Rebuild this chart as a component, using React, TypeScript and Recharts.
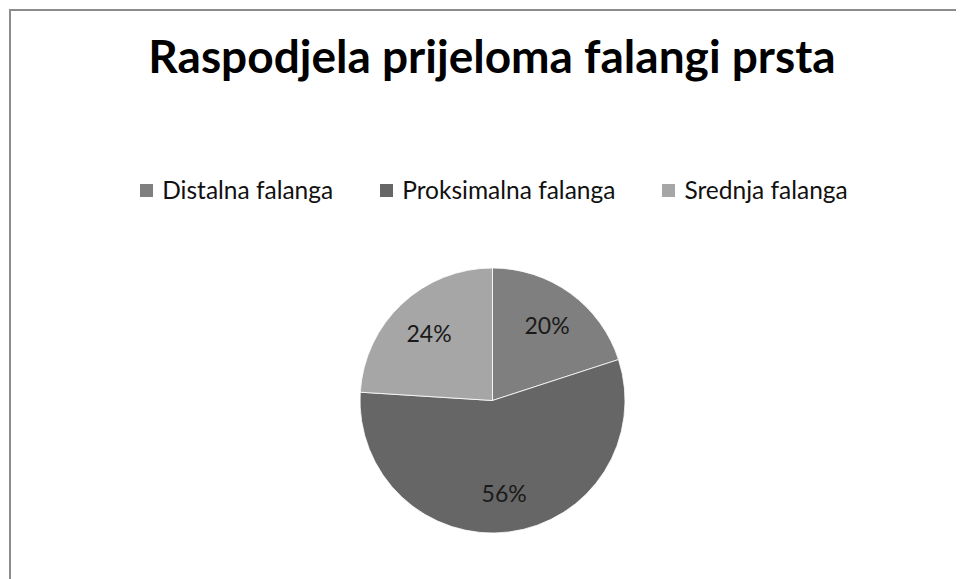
import React from 'react';
import { PieChart, Pie, Cell, Legend } from 'recharts';

const categories = ['Distalna falanga', 'Proksimalna falanga', 'Srednja falanga'];
const values = [20, 56, 24];
const colors = ['#7f7f7f', '#666666', '#a6a6a6'];
const title = 'Raspodjela prijeloma falangi prsta';

const data = categories.map((name, i) => ({ name, value: values[i] }));
const total = values.reduce((a, b) => a + b, 0);

const FONT = 'Lato, "Open Sans", sans-serif';
const RADIAN = Math.PI / 180;
const LEGEND_H = 24;

function renderLabel(props: any) {
  const { cx, cy, midAngle, outerRadius, value } = props;
  const r = outerRadius * 0.7;
  const x = cx + r * Math.cos(-midAngle * RADIAN);
  const y = cy + r * Math.sin(-midAngle * RADIAN);
  return (
    <text x={x} y={y} textAnchor="middle" dominantBaseline="central" fill="#1a1a1a" fontSize={23} fontFamily={FONT}>
      {Math.round((value / total) * 100)}%
    </text>
  );
}

function renderLegend(props: any) {
  const payload = props.payload || [];
  return (
    <div style={{ display: 'flex', justifyContent: 'center', fontFamily: FONT, fontSize: 24.5, color: '#111', lineHeight: `${LEGEND_H}px`, height: LEGEND_H }}>
      {payload.map((entry: any, i: number) => {
        const idx = categories.indexOf(entry.value);
        return (
          <div key={i} style={{ display: 'flex', alignItems: 'center', marginRight: i < payload.length - 1 ? 47 : 0 }}>
            <span style={{ display: 'inline-block', width: 13, height: 13, background: colors[idx >= 0 ? idx : i], marginRight: 9 }} />
            <span>{entry.value}</span>
          </div>
        );
      })}
    </div>
  );
}

export default function App() {
  return (
    <div style={{ position: 'relative', width: 956, height: 571, overflow: 'hidden', background: '#fff' }}>
      <div style={{ position: 'absolute', left: 1, top: 1, width: 1000, height: 600, borderTop: '2px solid #8c8c8c', borderLeft: '2px solid #8c8c8c', boxSizing: 'border-box' }} />
      <svg width={956} height={571} style={{ position: 'absolute', left: 0, top: 0 }}>
        <text x={484} y={65} textAnchor="middle" fontFamily={FONT} fontWeight="bold" fontSize={46} fill="#000">
          {title}
        </text>
      </svg>
      <div style={{ position: 'absolute', left: 0, top: 0 }}>
        <PieChart width={956} height={571} margin={{ top: 0, right: 0, bottom: 0, left: 0 }}>
          <Legend
            verticalAlign="top"
            align="center"
            content={renderLegend}
            wrapperStyle={{ top: 170, left: 8, width: 956 }}
          />
          <Pie
            data={data}
            dataKey="value"
            nameKey="name"
            cx={484.5}
            cy={392.5 - LEGEND_H}
            outerRadius={132.5}
            startAngle={90}
            endAngle={-270}
            stroke="#ffffff"
            strokeWidth={0.8}
            label={renderLabel}
            labelLine={false}
            isAnimationActive={false}
          >
            {data.map((d, i) => (
              <Cell key={d.name} fill={colors[i]} />
            ))}
          </Pie>
        </PieChart>
      </div>
    </div>
  );
}
